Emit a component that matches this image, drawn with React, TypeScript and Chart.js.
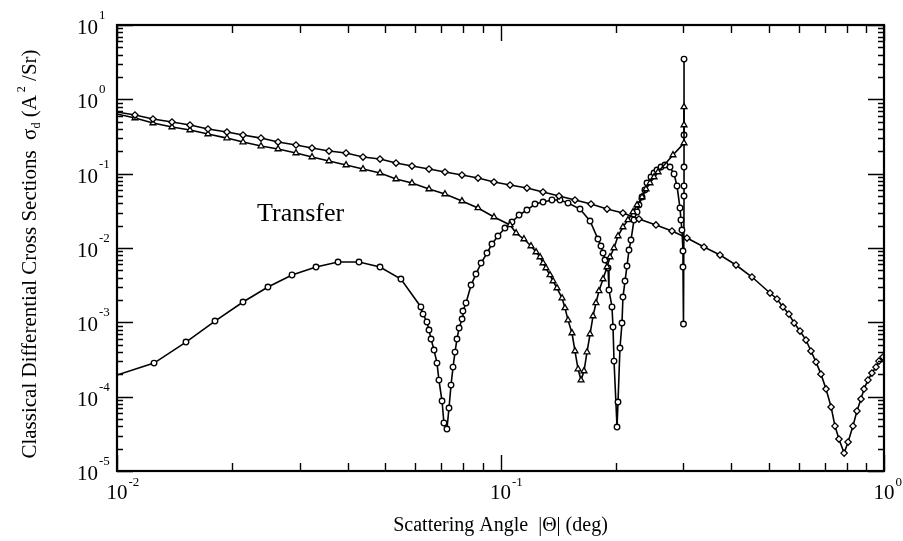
import React, { useEffect, useRef } from "react";
import { Chart, registerables } from "chart.js";

Chart.register(...registerables);

const FONT = '"Liberation Serif", "Times New Roman", serif';

// Axis ranges and tick labels (decade exponents)
const xRange = [0.01, 1];
const yRange = [1e-5, 10];
const xDecadeExps = [-2, -1, 0];
const yDecadeExps = [1, 0, -1, -2, -3, -4, -5];
const xTitle = "Scattering Angle  |\u0398| (deg)";
const annotationText = "Transfer";

// Series 1: diamonds
const diamondX = [
  0.01, 0.01114, 0.01241, 0.01391, 0.0155, 0.01727, 0.01935, 0.02131, 0.02374, 0.0263,
  0.02929, 0.03225, 0.03571, 0.03956, 0.0438, 0.04851, 0.0534, 0.05877, 0.0651, 0.07164,
  0.07935, 0.08738, 0.09617, 0.1059, 0.1172, 0.1291, 0.1421, 0.1564, 0.1722, 0.1896,
  0.2086, 0.2297, 0.2543, 0.28, 0.3064, 0.3394, 0.3736, 0.4112, 0.4526, 0.5044,
  0.526, 0.545, 0.565, 0.583, 0.604, 0.626, 0.645, 0.665, 0.685, 0.706,
  0.728, 0.745, 0.763, 0.787, 0.806, 0.83, 0.85, 0.871, 0.887, 0.908,
  0.93, 0.953, 0.97, 0.994,
];
const diamondY = [
  0.675, 0.615, 0.543, 0.495, 0.451, 0.399, 0.363, 0.331, 0.301, 0.266,
  0.243, 0.221, 0.2016, 0.1895, 0.1674, 0.1573, 0.139, 0.1267, 0.1154, 0.1052,
  0.0958, 0.0873, 0.0772, 0.0703, 0.0641, 0.0566, 0.05, 0.0442, 0.039, 0.0334,
  0.0295, 0.0245, 0.0204, 0.0169, 0.0136, 0.0103, 0.00804, 0.0059, 0.00407, 0.00248,
  0.00206, 0.00161, 0.00129, 0.000978, 0.000763, 0.000578, 0.000411, 0.000292, 0.000201, 0.000127,
  0.0000725, 0.0000402, 0.0000269, 0.0000174, 0.0000245, 0.0000402, 0.0000641, 0.0000929, 0.000127, 0.000167,
  0.000208, 0.00025, 0.000301, 0.000341,
];

// Series 2: triangles
const triangleX = [
  0.01, 0.01114, 0.01241, 0.01391, 0.0155, 0.01727, 0.01935, 0.02131, 0.02374, 0.0263,
  0.02929, 0.03225, 0.03571, 0.03956, 0.0438, 0.04851, 0.0534, 0.05877, 0.0651, 0.07164,
  0.07935, 0.08738, 0.09617, 0.1059, 0.1098, 0.1151, 0.1201, 0.1238, 0.1268, 0.1291,
  0.1314, 0.1346, 0.1371, 0.1404, 0.1447, 0.1473, 0.15, 0.1536, 0.1564, 0.1593,
  0.1622, 0.1651, 0.1681, 0.1712, 0.1743, 0.1774, 0.1806, 0.1851, 0.1896, 0.193,
  0.1977, 0.2025, 0.2086, 0.215, 0.2216, 0.227, 0.2339, 0.2395, 0.2454, 0.2514,
  0.2575, 0.2817, 0.301, 0.301, 0.301,
];
const triangleY = [
  0.634, 0.56, 0.48, 0.424, 0.386, 0.341, 0.301, 0.266, 0.235, 0.2145,
  0.1895, 0.1674, 0.1479, 0.1306, 0.1154, 0.102, 0.0847, 0.0748, 0.0621, 0.0532,
  0.0428, 0.0345, 0.0261, 0.0204, 0.0159, 0.0132, 0.01063, 0.00882, 0.00756, 0.00627,
  0.00537, 0.00433, 0.00359, 0.00289, 0.00212, 0.00156, 0.00107, 0.000718, 0.000411, 0.000235,
  0.000167, 0.000221, 0.000398, 0.000696, 0.001215, 0.00182, 0.00264, 0.00382, 0.00554, 0.00756,
  0.00999, 0.01448, 0.01914, 0.0238, 0.0305, 0.0378, 0.0485, 0.0621, 0.0748, 0.0901,
  0.1052, 0.178, 0.258, 0.451, 0.788,
];

// Series 3: circles
const circleX = [
  0.01, 0.01249, 0.01513, 0.01801, 0.02131, 0.02475, 0.0286, 0.03303, 0.0377, 0.04276,
  0.04851, 0.055, 0.062, 0.0628, 0.0643, 0.0651, 0.0659, 0.0671, 0.0683, 0.0691,
  0.0704, 0.0712, 0.0725, 0.0734, 0.0743, 0.0752, 0.0761, 0.077, 0.078, 0.0794,
  0.0798, 0.0813, 0.0838, 0.0863, 0.089, 0.0922, 0.095, 0.0985, 0.1027, 0.1071,
  0.1118, 0.1172, 0.123, 0.1291, 0.1362, 0.1429, 0.15, 0.1612, 0.1712, 0.1795,
  0.1828, 0.1851, 0.1873, 0.1907, 0.1918, 0.1953, 0.1965, 0.1977, 0.2013, 0.2025,
  0.2049, 0.2074, 0.2086, 0.2112, 0.2137, 0.2163, 0.2189, 0.2229, 0.227, 0.2297,
  0.2339, 0.238, 0.241, 0.2469, 0.2514, 0.2559, 0.2622, 0.2685, 0.2767, 0.2835,
  0.2886, 0.2938, 0.2955, 0.2973, 0.2991, 0.2991, 0.3, 0.301, 0.301, 0.301,
  0.301, 0.301,
];
const circleY = [
  0.000195, 0.000283, 0.000543, 0.00104, 0.001875, 0.002984, 0.00433, 0.00554, 0.00647, 0.00647,
  0.00554, 0.00382, 0.00161, 0.00129, 0.00101, 0.000787, 0.000596, 0.000424, 0.000283, 0.000167,
  0.0000873, 0.0000442, 0.0000367, 0.0000703, 0.000143, 0.00025, 0.000398, 0.000596, 0.000838, 0.001107,
  0.001418, 0.00182, 0.003175, 0.00446, 0.00627, 0.00855, 0.01131, 0.01448, 0.01856, 0.02235,
  0.02776, 0.03241, 0.039, 0.0415, 0.0442, 0.0442, 0.0402, 0.0334, 0.02306, 0.0132,
  0.01063, 0.00855, 0.00689, 0.00537, 0.00272, 0.00161, 0.000864, 0.000301, 0.000039, 0.0000847,
  0.000451, 0.000978, 0.00219, 0.00359, 0.00572, 0.00939, 0.0128, 0.0238, 0.0305, 0.0378,
  0.0485, 0.0602, 0.0748, 0.0901, 0.102, 0.1119, 0.1228, 0.1306, 0.1228, 0.0989,
  0.0682, 0.0345, 0.0238, 0.01744, 0.0091, 0.00554, 0.000948, 0.05, 0.0682, 0.1228,
  0.331, 3.48,
];

function toPoints(xs: number[], ys: number[]) {
  return xs.map((x, i) => ({ x, y: ys[i] }));
}

function drawSegments(
  ctx: CanvasRenderingContext2D,
  segs: { t: string; size: number; dy: number }[],
  cx: number,
  cy: number
) {
  let total = 0;
  const widths = segs.map((s) => {
    ctx.font = `${s.size}px ${FONT}`;
    const w = ctx.measureText(s.t).width;
    total += w;
    return w;
  });
  let x = cx - total / 2;
  segs.forEach((s, i) => {
    ctx.font = `${s.size}px ${FONT}`;
    ctx.fillText(s.t, x, cy + s.dy);
    x += widths[i];
  });
}

const paperPlugin = {
  id: "paperAxes",
  beforeDraw(chart: any) {
    const ctx = chart.ctx;
    ctx.save();
    ctx.fillStyle = "#fff";
    ctx.fillRect(0, 0, chart.width, chart.height);
    ctx.restore();
  },
  afterDraw(chart: any) {
    const ctx: CanvasRenderingContext2D = chart.ctx;
    const { left, right, top, bottom } = chart.chartArea;
    const xs = chart.scales.x;
    const ys = chart.scales.y;
    ctx.save();
    ctx.strokeStyle = "#000";
    ctx.fillStyle = "#000";
    // ticks
    ctx.lineWidth = 1.4;
    ctx.beginPath();
    for (let d = -2; d <= 0; d++) {
      for (let m = 1; m <= 9; m++) {
        const v = m * Math.pow(10, d);
        if (v < xRange[0] * 0.999 || v > xRange[1] * 1.001) continue;
        const px = Math.round(xs.getPixelForValue(v)) + 0.5;
        const len = m === 1 ? 16 : 8;
        ctx.moveTo(px, bottom);
        ctx.lineTo(px, bottom - len);
        ctx.moveTo(px, top);
        ctx.lineTo(px, top + len);
      }
    }
    for (let d = -5; d <= 1; d++) {
      for (let m = 1; m <= 9; m++) {
        const v = m * Math.pow(10, d);
        if (v < yRange[0] * 0.999 || v > yRange[1] * 1.001) continue;
        const py = Math.round(ys.getPixelForValue(v)) + 0.5;
        const len = m === 1 ? 16 : 6;
        ctx.moveTo(left, py);
        ctx.lineTo(left + len, py);
        ctx.moveTo(right, py);
        ctx.lineTo(right - len, py);
      }
    }
    ctx.stroke();
    // frame
    ctx.lineWidth = 2.2;
    ctx.strokeRect(left, top, right - left, bottom - top);

    // x tick labels
    ctx.textBaseline = "alphabetic";
    xDecadeExps.forEach((e) => {
      const px = xs.getPixelForValue(Math.pow(10, e));
      ctx.font = `21px ${FONT}`;
      const w = ctx.measureText("10").width;
      ctx.textAlign = "center";
      ctx.fillText("10", px, bottom + 28);
      ctx.font = `13px ${FONT}`;
      ctx.textAlign = "left";
      ctx.fillText(String(e), px + w / 2 + 1, bottom + 15);
    });
    // y tick labels
    yDecadeExps.forEach((e) => {
      const py = ys.getPixelForValue(Math.pow(10, e));
      ctx.font = `21px ${FONT}`;
      ctx.textAlign = "right";
      ctx.fillText("10", left - 19, py + 9);
      ctx.font = `13px ${FONT}`;
      ctx.textAlign = "left";
      ctx.fillText(String(e), left - 18, py - 6);
    });

    // annotation
    ctx.textAlign = "left";
    ctx.font = `26px ${FONT}`;
    ctx.fillText(annotationText, 257, 221);

    // x title
    ctx.textAlign = "left";
    drawSegments(ctx, [{ t: xTitle, size: 20, dy: 0 }], (left + right) / 2, 531);

    // y title (rotated)
    ctx.save();
    ctx.translate(36, (top + bottom) / 2 + 6);
    ctx.rotate(-Math.PI / 2);
    drawSegments(
      ctx,
      [
        { t: "Classical Differential Cross Sections  \u03c3", size: 21, dy: 0 },
        { t: "d", size: 12, dy: 4 },
        { t: " (A", size: 21, dy: 0 },
        { t: " 2", size: 12, dy: -11 },
        { t: " /Sr)", size: 21, dy: 0 },
      ],
      0,
      0
    );
    ctx.restore();
    ctx.restore();
  },
};

export default function App() {
  const canvasRef = useRef<HTMLCanvasElement | null>(null);
  useEffect(() => {
    const canvas = canvasRef.current;
    if (!canvas) return;
    const firstHidden = (r: number) => (c: any) => (c.dataIndex === 0 ? 0 : r);
    const common = {
      showLine: true,
      borderColor: "#000",
      borderWidth: 1.6,
      pointBorderColor: "#000",
      pointBackgroundColor: "#fff",
      pointBorderWidth: 1.3,
      tension: 0,
    };
    const chart = new Chart(canvas, {
      type: "scatter",
      data: {
        datasets: [
          {
            ...common,
            label: "diamonds",
            data: toPoints(diamondX, diamondY),
            pointStyle: "rectRot",
            pointRadius: firstHidden(3.2),
          },
          {
            ...common,
            label: "triangles",
            data: toPoints(triangleX, triangleY),
            pointStyle: "triangle",
            pointRadius: firstHidden(3.4),
          },
          {
            ...common,
            label: "circles",
            data: toPoints(circleX, circleY),
            pointStyle: "circle",
            pointRadius: firstHidden(2.8),
          },
        ],
      },
      options: {
        animation: false,
        responsive: false,
        maintainAspectRatio: false,
        events: [],
        layout: { padding: { left: 117, top: 25, right: 19, bottom: 70 } },
        plugins: { legend: { display: false }, tooltip: { enabled: false } },
        scales: {
          x: { type: "logarithmic", min: xRange[0], max: xRange[1], display: false },
          y: { type: "logarithmic", min: yRange[0], max: yRange[1], display: false },
        },
      },
      plugins: [paperPlugin],
    } as any);
    return () => chart.destroy();
  }, []);
  return (
    <div style={{ position: "fixed", left: 0, top: 0, width: 903, height: 541, background: "#fff" }}>
      <canvas ref={canvasRef} width={903} height={541} style={{ display: "block" }} />
    </div>
  );
}
